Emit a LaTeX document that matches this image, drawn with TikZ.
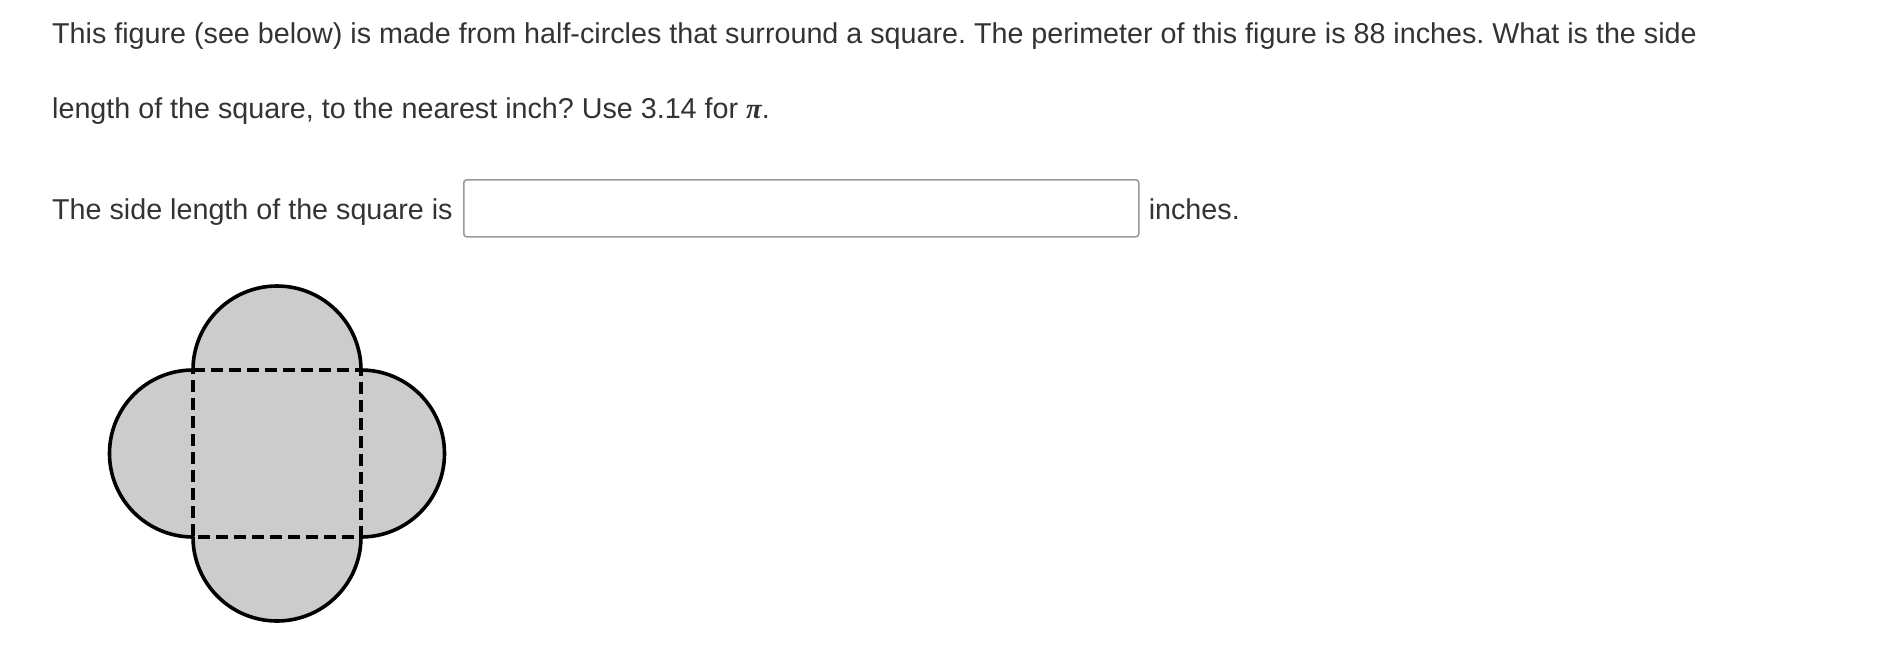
\documentclass[tikz,border=0pt]{standalone}
\usepackage{fontspec}
\setmainfont{Liberation Sans}
\newfontfamily\pifont{Liberation Serif}
\usetikzlibrary{positioning}
\definecolor{qtext}{HTML}{333333}
\definecolor{boxline}{HTML}{9A9A9A}
\frenchspacing
\begin{document}
\begin{tikzpicture}[x=1pt,y=-1pt]
        \tikzstyle{question}=[anchor=base west,inner sep=0pt,text=qtext,font=\fontsize{28.7}{34}\selectfont]
        \tikzstyle{answer}=[draw=boxline,line width=1.6pt,rounded corners=3pt,fill=white,minimum width=675pt,minimum height=57pt,inner sep=0pt]
        \tikzstyle{outline}=[draw=black,line width=3.6pt,fill=black!20,line join=round]
        \tikzstyle{sidedash}=[draw=black,line width=4pt,dash pattern=on 12pt off 6pt]
        \useasboundingbox (0,0) rectangle (1901,662);
        \node [question] (q1) at (52,43) {This figure (see below) is made from half-circles that surround a square. The perimeter of this figure is 88 inches. What is the side};
        \node [question] (q2) at (52,118) {length of the square, to the nearest inch? Use 3.14 for {\pifont\bfseries\itshape π}.};
        \node [question] (prompt) at (52,219) {The side length of the square is};
        \node [answer,anchor=north west] (answerbox) at (463,179) {};
        \node [question] (unit) at ([xshift=9pt]answerbox.east |- prompt.base) {inches.};
       \begin{scope}
         \coordinate (nw) at (193,370);
         \coordinate (ne) at (361,370);
         \coordinate (se) at (361,537);
         \coordinate (sw) at (193,537);
         \path[outline] (nw) arc[start angle=180,end angle=360,radius=84]
                      arc[start angle=270,end angle=450,radius=83.5]
                      arc[start angle=0,end angle=180,radius=84]
                      arc[start angle=90,end angle=270,radius=83.5] -- cycle;
         \draw[sidedash] (nw) -- (ne) -- (se) -- (sw) -- cycle;
        \end{scope}
      \end{tikzpicture}
\end{document}
